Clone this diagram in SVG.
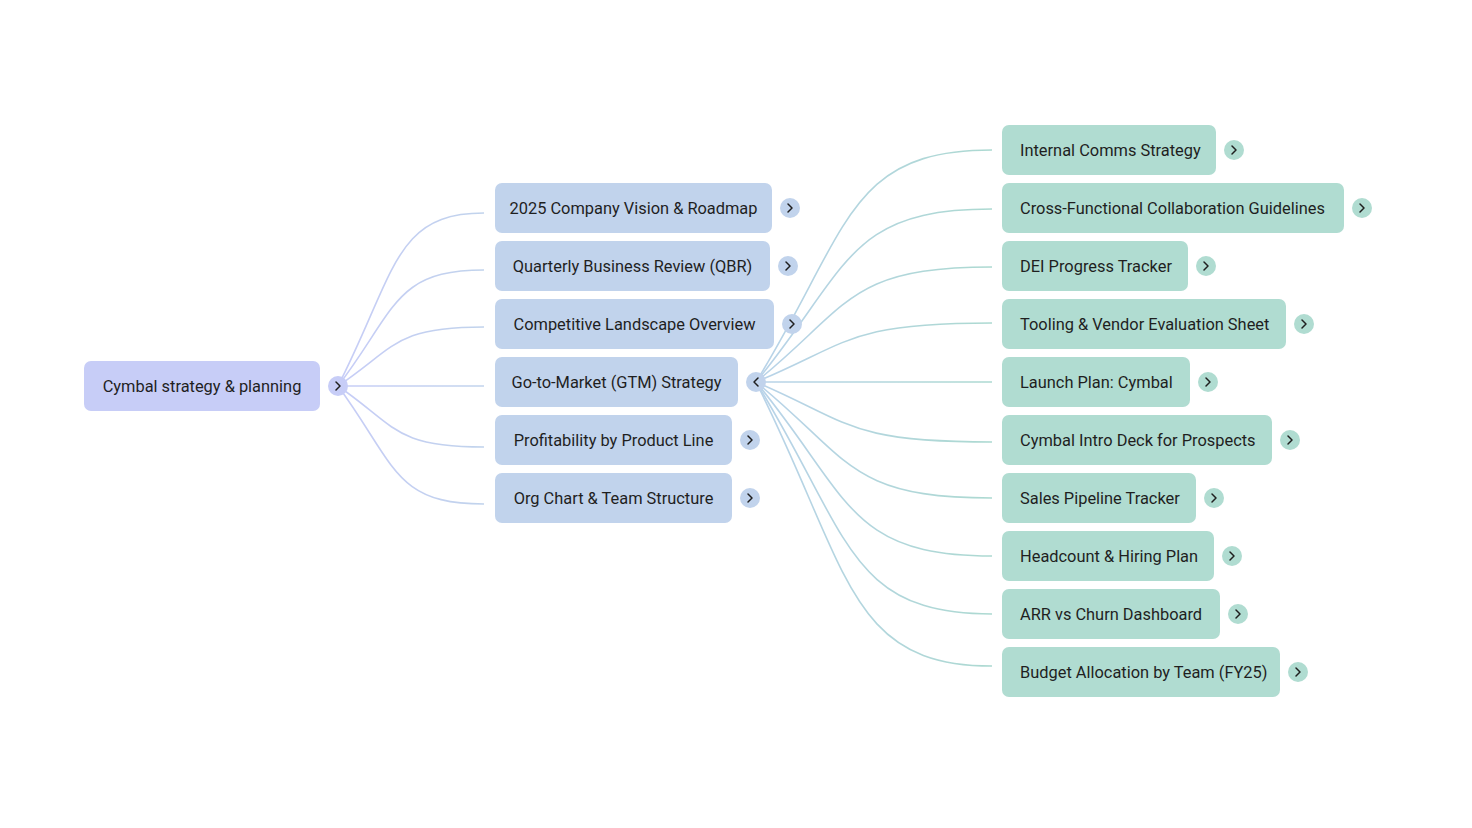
<svg xmlns="http://www.w3.org/2000/svg" width="1472" height="828" viewBox="0 0 1472 828">
<style>
text{font-family:Roboto,"Liberation Sans",sans-serif;font-size:16.4px;fill:#1f1f1f}
.root{fill:#c7cdf7}
.l1{fill:#c1d3ec}
.l2{fill:#b0dcd1}
.c{text-anchor:middle}
.chev{fill:none;stroke:#1f1f1f;stroke-width:1.5;stroke-linecap:round;stroke-linejoin:round}
.lk1{fill:none;stroke:url(#g1);stroke-width:1.6}
.lk2{fill:none;stroke:url(#g2);stroke-width:1.6}
</style>
<defs>
<linearGradient id="g1" gradientUnits="userSpaceOnUse" x1="338" y1="0" x2="484" y2="0"><stop offset="0" stop-color="#c7cdf7"/><stop offset="1" stop-color="#c1d3ec"/></linearGradient>
<linearGradient id="g2" gradientUnits="userSpaceOnUse" x1="756" y1="0" x2="992" y2="0"><stop offset="0" stop-color="#b9d3e9"/><stop offset="1" stop-color="#acd9d1"/></linearGradient>
</defs>
<rect width="1472" height="828" fill="#ffffff"/>
<g id="connectors">
<path class="lk1" d="M338 386 C396 272 394 213 484 213"/>
<path class="lk1" d="M338 386 C396 310 394 270 484 270"/>
<path class="lk1" d="M338 386 C396 347 394 327 484 327"/>
<path class="lk1" d="M338 386 L484 386"/>
<path class="lk1" d="M338 386 C396 426 394 447 484 447"/>
<path class="lk1" d="M338 386 C396 465 394 504 484 504"/>
<path class="lk2" d="M756 382 C850 229 847 150 992 150"/>
<path class="lk2" d="M756 382 C850 267 847 209 992 209"/>
<path class="lk2" d="M756 382 C850 306 847 267 992 267"/>
<path class="lk2" d="M756 382 C850 343 847 323 992 323"/>
<path class="lk2" d="M756 382 L992 382"/>
<path class="lk2" d="M756 382 C850 422 847 442 992 442"/>
<path class="lk2" d="M756 382 C850 458 847 498 992 498"/>
<path class="lk2" d="M756 382 C850 496 847 556 992 556"/>
<path class="lk2" d="M756 382 C850 534 847 614 992 614"/>
<path class="lk2" d="M756 382 C850 569 847 666 992 666"/>
</g>
<g id="n-root">
<rect class="root" x="84" y="361" width="236" height="50" rx="7"/>
<text class="c" x="202" y="391.5">Cymbal strategy &amp; planning</text>
<circle class="root" cx="338" cy="386" r="10"/>
<path class="chev" d="M336 382 L340 386 L336 390"/>
</g>
<g id="n-vision">
<rect class="l1" x="495" y="183" width="277" height="50" rx="7"/>
<text class="c" x="633.5" y="213.5">2025 Company Vision &amp; Roadmap</text>
<circle class="l1" cx="790" cy="208" r="10"/>
<path class="chev" d="M788 204 L792 208 L788 212"/>
</g>
<g id="n-qbr">
<rect class="l1" x="495" y="241" width="275" height="50" rx="7"/>
<text class="c" x="632.5" y="271.5">Quarterly Business Review (QBR)</text>
<circle class="l1" cx="788" cy="266" r="10"/>
<path class="chev" d="M786 262 L790 266 L786 270"/>
</g>
<g id="n-comp">
<rect class="l1" x="495" y="299" width="279" height="50" rx="7"/>
<text class="c" x="634.5" y="329.5">Competitive Landscape Overview</text>
<circle class="l1" cx="792" cy="324" r="10"/>
<path class="chev" d="M790 320 L794 324 L790 328"/>
</g>
<g id="n-gtm">
<rect class="l1" x="495" y="357" width="243" height="50" rx="7"/>
<text class="c" x="616.5" y="387.5">Go-to-Market (GTM) Strategy</text>
<circle class="l1" cx="756" cy="382" r="10"/>
<path class="chev" d="M758 378 L754 382 L758 386"/>
</g>
<g id="n-profit">
<rect class="l1" x="495" y="415" width="237" height="50" rx="7"/>
<text class="c" x="613.5" y="445.5">Profitability by Product Line</text>
<circle class="l1" cx="750" cy="440" r="10"/>
<path class="chev" d="M748 436 L752 440 L748 444"/>
</g>
<g id="n-org">
<rect class="l1" x="495" y="473" width="237" height="50" rx="7"/>
<text class="c" x="613.5" y="503.5">Org Chart &amp; Team Structure</text>
<circle class="l1" cx="750" cy="498" r="10"/>
<path class="chev" d="M748 494 L752 498 L748 502"/>
</g>
<g id="n-internal">
<rect class="l2" x="1002" y="125" width="214" height="50" rx="7"/>
<text x="1020" y="155.5">Internal Comms Strategy</text>
<circle class="l2" cx="1234" cy="150" r="10"/>
<path class="chev" d="M1232 146 L1236 150 L1232 154"/>
</g>
<g id="n-cross">
<rect class="l2" x="1002" y="183" width="342" height="50" rx="7"/>
<text x="1020" y="213.5">Cross-Functional Collaboration Guidelines</text>
<circle class="l2" cx="1362" cy="208" r="10"/>
<path class="chev" d="M1360 204 L1364 208 L1360 212"/>
</g>
<g id="n-dei">
<rect class="l2" x="1002" y="241" width="186" height="50" rx="7"/>
<text x="1020" y="271.5">DEI Progress Tracker</text>
<circle class="l2" cx="1206" cy="266" r="10"/>
<path class="chev" d="M1204 262 L1208 266 L1204 270"/>
</g>
<g id="n-tooling">
<rect class="l2" x="1002" y="299" width="284" height="50" rx="7"/>
<text x="1020" y="329.5">Tooling &amp; Vendor Evaluation Sheet</text>
<circle class="l2" cx="1304" cy="324" r="10"/>
<path class="chev" d="M1302 320 L1306 324 L1302 328"/>
</g>
<g id="n-launch">
<rect class="l2" x="1002" y="357" width="188" height="50" rx="7"/>
<text x="1020" y="387.5">Launch Plan: Cymbal</text>
<circle class="l2" cx="1208" cy="382" r="10"/>
<path class="chev" d="M1206 378 L1210 382 L1206 386"/>
</g>
<g id="n-intro">
<rect class="l2" x="1002" y="415" width="270" height="50" rx="7"/>
<text x="1020" y="445.5">Cymbal Intro Deck for Prospects</text>
<circle class="l2" cx="1290" cy="440" r="10"/>
<path class="chev" d="M1288 436 L1292 440 L1288 444"/>
</g>
<g id="n-sales">
<rect class="l2" x="1002" y="473" width="194" height="50" rx="7"/>
<text x="1020" y="503.5">Sales Pipeline Tracker</text>
<circle class="l2" cx="1214" cy="498" r="10"/>
<path class="chev" d="M1212 494 L1216 498 L1212 502"/>
</g>
<g id="n-headcount">
<rect class="l2" x="1002" y="531" width="212" height="50" rx="7"/>
<text x="1020" y="561.5">Headcount &amp; Hiring Plan</text>
<circle class="l2" cx="1232" cy="556" r="10"/>
<path class="chev" d="M1230 552 L1234 556 L1230 560"/>
</g>
<g id="n-arr">
<rect class="l2" x="1002" y="589" width="218" height="50" rx="7"/>
<text x="1020" y="619.5">ARR vs Churn Dashboard</text>
<circle class="l2" cx="1238" cy="614" r="10"/>
<path class="chev" d="M1236 610 L1240 614 L1236 618"/>
</g>
<g id="n-budget">
<rect class="l2" x="1002" y="647" width="278" height="50" rx="7"/>
<text x="1020" y="677.5">Budget Allocation by Team (FY25)</text>
<circle class="l2" cx="1298" cy="672" r="10"/>
<path class="chev" d="M1296 668 L1300 672 L1296 676"/>
</g>
</svg>
